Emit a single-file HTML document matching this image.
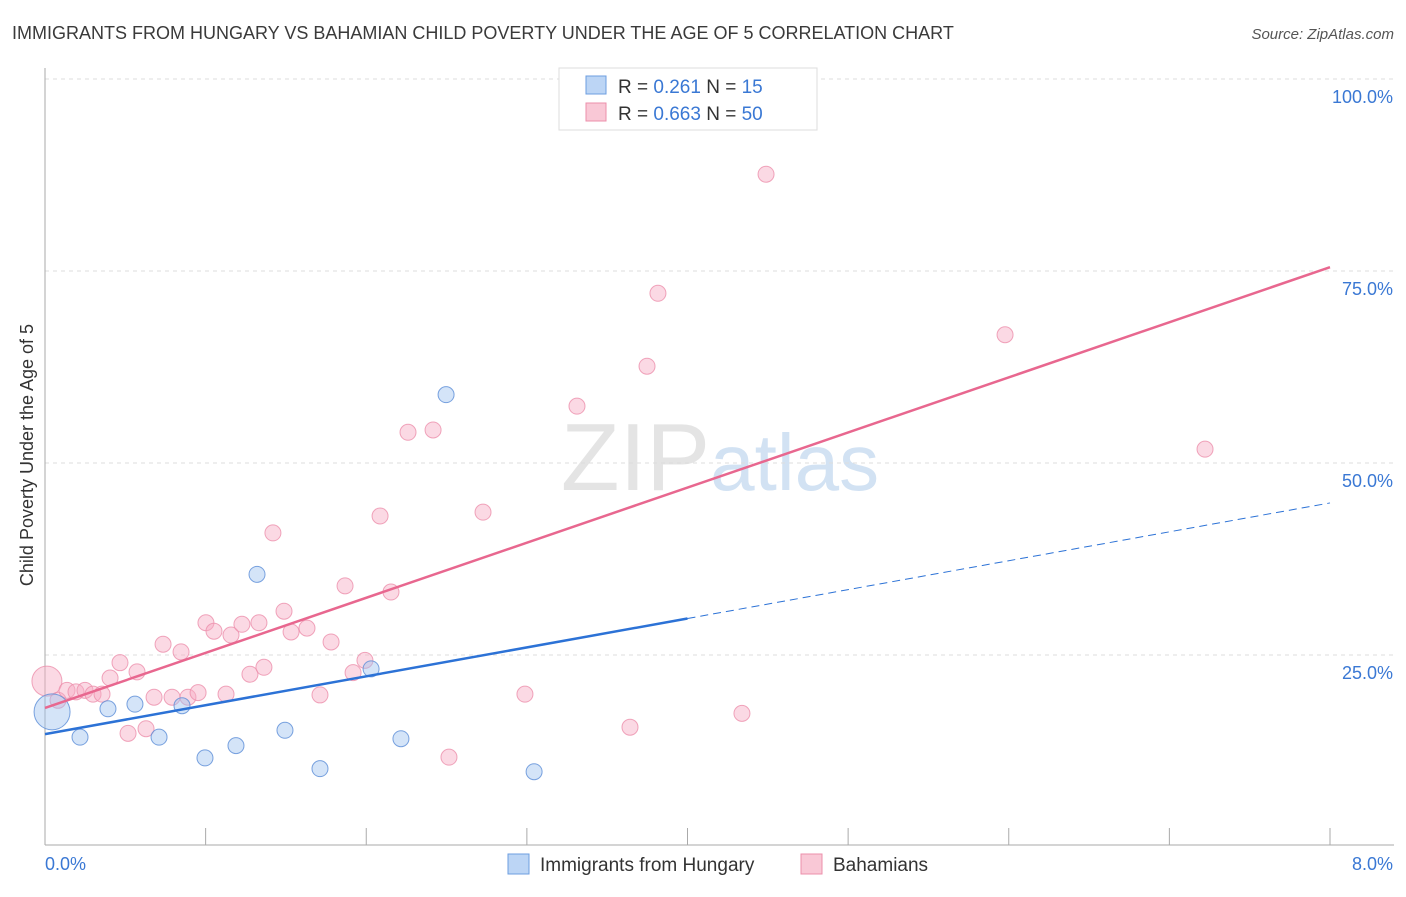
<!DOCTYPE html>
<html><head><meta charset="utf-8"><style>
body{margin:0;background:#fff;font-family:"Liberation Sans",sans-serif;}
svg text{font-family:"Liberation Sans",sans-serif;}
</style></head><body>
<svg id="chart" width="1406" height="892" xmlns="http://www.w3.org/2000/svg">
<text x="12" y="39" font-size="18" fill="#3a3a3a">IMMIGRANTS FROM HUNGARY VS BAHAMIAN CHILD POVERTY UNDER THE AGE OF 5 CORRELATION CHART</text>
<text x="1394" y="39" font-size="15" fill="#555" text-anchor="end" font-style="italic">Source: ZipAtlas.com</text>
<text x="720" y="490" font-size="96" text-anchor="middle" fill="#e4e4e4" font-family="Liberation Serif"><tspan>ZIP</tspan><tspan fill="#d2e2f3" font-family="Liberation Sans" font-size="80">atlas</tspan></text>
<text transform="translate(33,455) rotate(-90)" font-size="18" fill="#333" text-anchor="middle">Child Poverty Under the Age of 5</text>
<g id="grid"></g><g id="axes"></g><g id="marks"></g>
<g>
<rect x="559" y="68" width="258" height="62" fill="#fff" stroke="#ddd"/>
<rect x="586" y="76" width="20" height="18" fill="#bcd5f5" stroke="#6c9ee0"/>
<text x="618" y="93" font-size="19" fill="#333">R = <tspan fill="#3a78d4">0.261</tspan>   N = <tspan fill="#3a78d4"> 15</tspan></text>
<rect x="586" y="103" width="20" height="18" fill="#f9c8d6" stroke="#ec8fab"/>
<text x="618" y="120" font-size="19" fill="#333">R = <tspan fill="#3a78d4">0.663</tspan>   N = <tspan fill="#3a78d4">50</tspan></text>
</g>
<g>
<rect x="508" y="854" width="21" height="20" fill="#bcd5f5" stroke="#6c9ee0"/>
<text x="540" y="871" font-size="19" fill="#333">Immigrants from Hungary</text>
<rect x="801" y="854" width="21" height="20" fill="#f9c8d6" stroke="#ec8fab"/>
<text x="833" y="871" font-size="19" fill="#333">Bahamians</text>
</g>
</svg>
<script>
const blueX=[0.044,0.218,0.392,0.560,0.710,0.853,0.996,1.189,1.320,1.494,1.712,2.030,2.216,2.497,3.045];
const blueY=[17.6,14.3,18.0,18.6,14.3,18.4,11.6,13.2,35.5,15.2,10.2,23.2,14.1,58.9,9.8];
const pinkX=[0.012,0.081,0.137,0.193,0.249,0.299,0.355,0.405,0.467,0.517,0.573,0.629,0.679,0.735,0.791,0.847,0.890,0.953,1.002,1.052,1.127,1.158,1.226,1.276,1.332,1.363,1.419,1.488,1.532,1.631,1.712,1.781,1.868,1.918,1.992,2.086,2.154,2.260,2.416,2.515,2.727,2.988,3.312,3.642,3.748,3.816,4.339,4.489,5.977,7.222];
const pinkY=[21.6,19.1,20.4,20.2,20.4,19.9,19.9,22.0,24.0,14.8,22.8,15.4,19.5,26.4,19.5,25.4,19.5,20.1,29.2,28.1,19.9,27.6,29.0,22.5,29.2,23.4,40.9,30.7,28.0,28.5,19.8,26.7,34.0,22.7,24.3,43.1,33.2,54.0,54.3,11.7,43.6,19.9,57.4,15.6,62.6,72.1,17.4,87.6,66.7,51.8];
const yTicks=[25,50,75,100];
const yTickLabels=["25.0%","50.0%","75.0%","100.0%"];
const xTicks=[0,1,2,3,4,5,6,7,8];
const pinkTrend=[18.1,75.5];
const blueTrend=[14.7,44.8];
const blueSolidEnd=4.0;
const X0=45,X1=1330,Y0=847,Y1=79;
const sx=v=>X0+(X1-X0)*v/8;
const sy=v=>Y0-(Y0-Y1)*v/100;
const NS="http://www.w3.org/2000/svg";
function mk(p,tag,a){const e=document.createElementNS(NS,tag);for(const k in a)e.setAttribute(k,a[k]);p.appendChild(e);return e;}
const grid=document.getElementById('grid'),axes=document.getElementById('axes'),marks=document.getElementById('marks');
yTicks.forEach((t,i)=>{
 const l=mk(grid,'line',{x1:X0,x2:1394,y1:sy(t),y2:sy(t),stroke:'#ddd','stroke-dasharray':'4,4'});
 
 
 const tx=mk(axes,'text',{x:1393,y:sy(t)+24,'font-size':18,fill:'#3a78d4','text-anchor':'end'});
 tx.textContent=yTickLabels[i];
 
 
});
const ax=mk(axes,'line',{x1:X0,x2:X0,y1:68,y2:845,stroke:'#aaa'});


const bx=mk(axes,'line',{x1:X0,x2:1394,y1:845,y2:845,stroke:'#aaa'});


xTicks.forEach(t=>{
 const l=mk(axes,'line',{x1:sx(t),x2:sx(t),y1:828,y2:845,stroke:'#aaa'});
 
 
});
const xl0=mk(axes,'text',{x:45,y:870,'font-size':18,fill:'#3a78d4'});xl0.textContent='0.0%';


const xl1=mk(axes,'text',{x:1393,y:870,'font-size':18,fill:'#3a78d4','text-anchor':'end'});xl1.textContent='8.0%';


pinkX.forEach((x,i)=>{
 const c=mk(marks,'circle',{cx:sx(x),cy:sy(pinkY[i]),r:i===0?15:8,fill:'rgba(246,170,195,0.45)',stroke:'rgba(236,143,171,0.8)','stroke-width':1});
 
 
});
blueX.forEach((x,i)=>{
 const c=mk(marks,'circle',{cx:sx(x),cy:sy(blueY[i]),r:i===0?18:8,fill:'rgba(160,195,240,0.45)',stroke:'rgba(90,140,215,0.8)','stroke-width':1});
 
 
});
const bAt=x=>blueTrend[0]+(blueTrend[1]-blueTrend[0])*x/8;
const tp=mk(marks,'line',{x1:sx(0),y1:sy(pinkTrend[0]),x2:sx(8),y2:sy(pinkTrend[1]),stroke:'#e8678f','stroke-width':2.5});


const tb=mk(marks,'line',{x1:sx(0),y1:sy(bAt(0)),x2:sx(blueSolidEnd),y2:sy(bAt(blueSolidEnd)),stroke:'#2c72d6','stroke-width':2.5});


const td=mk(marks,'line',{x1:sx(blueSolidEnd),y1:sy(bAt(blueSolidEnd)),x2:sx(8),y2:sy(bAt(8)),stroke:'#2c72d6','stroke-width':1,'stroke-dasharray':'8,5'});


</script>
</body></html>
